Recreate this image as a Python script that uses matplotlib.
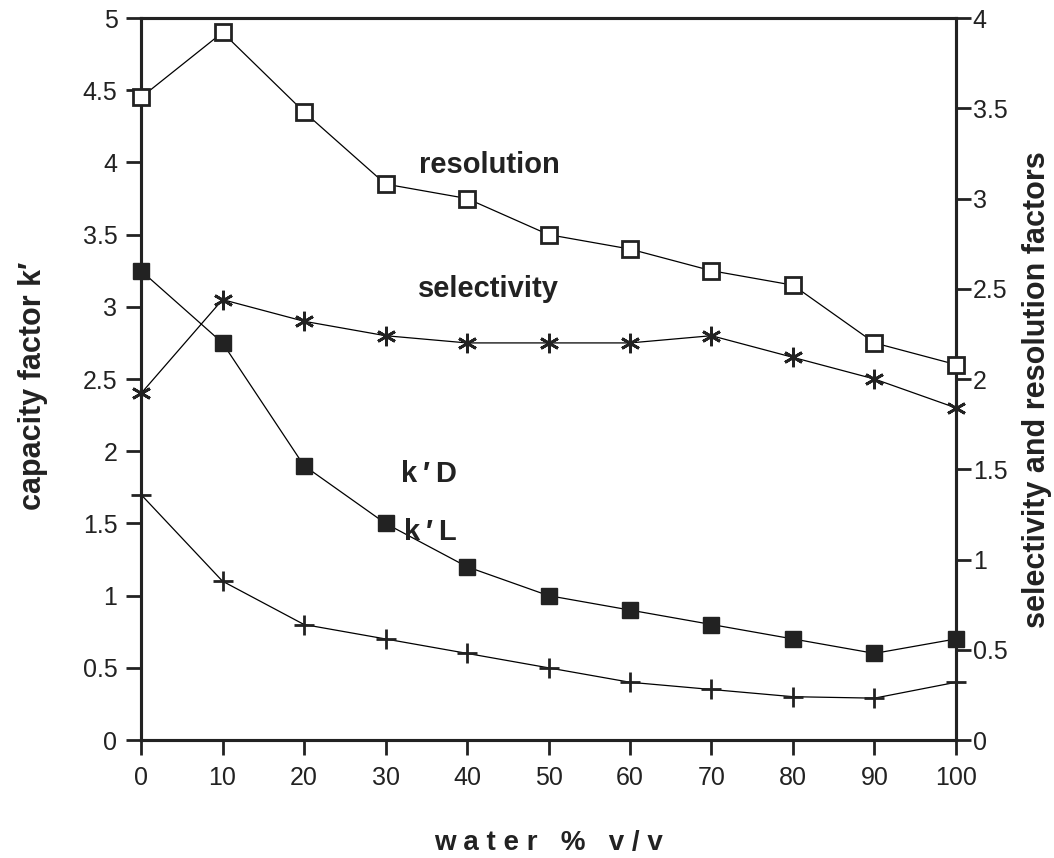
import matplotlib
matplotlib.use("Agg")
import matplotlib.pyplot as plt

plt.rcParams["font.family"] = ["Liberation Sans", "DejaVu Sans"]

water = [0, 10, 20, 30, 40, 50, 60, 70, 80, 90, 100]
k_D = [3.25, 2.75, 1.9, 1.5, 1.2, 1.0, 0.9, 0.8, 0.7, 0.6, 0.7]
k_L = [1.7, 1.1, 0.8, 0.7, 0.6, 0.5, 0.4, 0.35, 0.3, 0.29, 0.4]
resolution = [3.56, 3.92, 3.48, 3.08, 3.0, 2.8, 2.72, 2.6, 2.52, 2.2, 2.08]
selectivity = [1.92, 2.44, 2.32, 2.24, 2.2, 2.2, 2.2, 2.24, 2.12, 2.0, 1.84]

left_ticks = [0, 0.5, 1, 1.5, 2, 2.5, 3, 3.5, 4, 4.5, 5]
left_labels = ["0", "0.5", "1", "1.5", "2", "2.5", "3", "3.5", "4", "4.5", "5"]
right_ticks = [0, 0.5, 1, 1.5, 2, 2.5, 3, 3.5, 4]
right_labels = ["0", "0.5", "1", "1.5", "2", "2.5", "3", "3.5", "4"]
x_ticks = [0, 10, 20, 30, 40, 50, 60, 70, 80, 90, 100]

TICK_SIZE = 18
LABEL_SIZE = 22
TEXT_SIZE = 21
INK = "#222222"

fig = plt.figure(figsize=(10.54, 8.58), dpi=100)
ax = fig.add_axes([0.1338, 0.1375, 0.7732, 0.8415])
ax2 = ax.twinx()

ax.plot(water, k_D, "-", color="black", lw=0.9, marker="s", ms=12,
        mfc=INK, mec=INK, zorder=3, clip_on=False)
ax.plot(water, k_L, "-", color="black", lw=0.9, marker="+", ms=14,
        mew=2, mec=INK, zorder=3, clip_on=False)
ax2.plot(water, resolution, "-", color="black", lw=0.9, marker="s", ms=11,
         mfc="white", mec=INK, mew=2, zorder=3, clip_on=False)
ax2.plot(water, selectivity, "-", color="black", lw=0.9, marker=(6, 2, 0),
         ms=14, mew=2, mec=INK, zorder=3, clip_on=False)

ax.set_xlim(0, 100)
ax.set_ylim(0, 5)
ax2.set_ylim(0, 4)

ax.set_xticks(x_ticks)
ax.set_xticklabels([str(v) for v in x_ticks])
ax.set_yticks(left_ticks)
ax.set_yticklabels(left_labels)
ax2.set_yticks(right_ticks)
ax2.set_yticklabels(right_labels)

for a in (ax, ax2):
    for s in a.spines.values():
        s.set_linewidth(2.2)
        s.set_color(INK)
    a.tick_params(direction="out", length=11, width=2, color=INK,
                  labelsize=TICK_SIZE, pad=6, labelcolor=INK)
ax.tick_params(axis="x", pad=8)
ax2.tick_params(axis="y", pad=1)

ax.set_xlabel("w a t e r   %   v / v", fontsize=20, fontweight="bold",
              color=INK)
ax.xaxis.set_label_coords(0.5, -0.124)
ax.set_ylabel("capacity factor k\u2032", fontsize=LABEL_SIZE, fontweight="bold",
              color=INK)
ax.yaxis.set_label_coords(-0.114, 0.49)
ax2.set_ylabel("selectivity and resolution factors", fontsize=LABEL_SIZE,
               fontweight="bold", color=INK)
ax2.yaxis.set_label_coords(1.081, 0.485)

ax.text(42.8, 3.93, "resolution", fontsize=TEXT_SIZE, fontweight="bold",
        ha="center", va="baseline", color=INK)
ax.text(42.6, 3.07, "selectivity", fontsize=TEXT_SIZE, fontweight="bold",
        ha="center", va="baseline", color=INK)
ax.text(35.3, 1.79, "k\u2009\u2032\u2009D", fontsize=TEXT_SIZE, fontweight="bold",
        ha="center", va="baseline", color=INK)
ax.text(35.5, 1.385, "k\u2009\u2032\u2009L", fontsize=TEXT_SIZE, fontweight="bold",
        ha="center", va="baseline", color=INK)

plt.savefig("out.png", dpi=100)
